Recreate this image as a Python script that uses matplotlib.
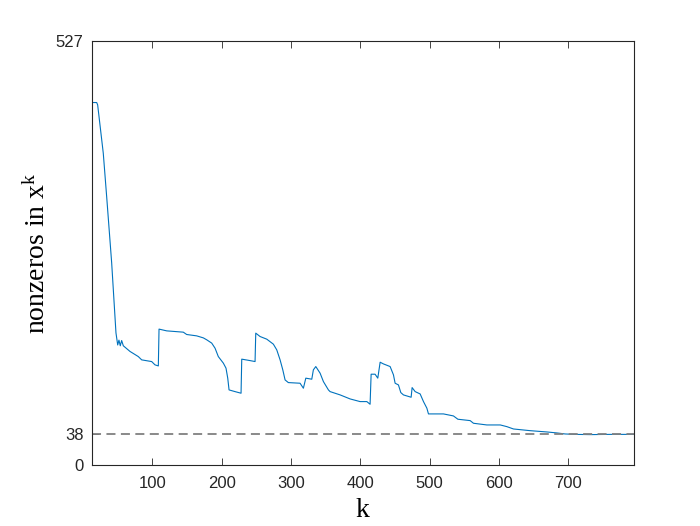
import numpy as np
import matplotlib
matplotlib.use('Agg')
import matplotlib.pyplot as plt

plt.rcParams['font.family'] = ['Liberation Sans', 'DejaVu Sans']
plt.rcParams['mathtext.fontset'] = 'custom'
plt.rcParams['mathtext.rm'] = 'Liberation Serif'
plt.rcParams['mathtext.it'] = 'Liberation Serif'

# iteration k and number of nonzeros in x^k
k = [12.6, 12.6, 19.8, 21.2, 29.3, 34.2, 41.4, 47.6, 50.1, 51.9, 53.8, 55.8, 58.2,
     67.8, 79.8, 84.7, 99.1, 103.9, 108.7, 109.7, 120.8, 144.7, 149.6, 164, 173.6,
     178.5, 185.7, 190.5, 195.2, 202.5, 206.3, 208.8, 210.7, 219.3, 228, 229, 241,
     248.2, 249.2, 255.4, 265.1, 274.6, 279.5, 284.3, 288.2, 291.5, 296.2, 313.1,
     317.9, 321.4, 330, 332.3, 335.8, 342, 346.8, 354, 356.4, 370.9, 385.3, 399.7,
     409.4, 414.1, 415.6, 421.3, 425.2, 428.6, 433.3, 443, 447.8, 450.2, 455, 458.4,
     462.2, 473.3, 474.7, 479.1, 486.3, 491.1, 496, 498.3, 519.9, 534.3, 540.7,
     558.4, 563.2, 582.5, 601.9, 611.4, 620.9, 645, 669.1, 683.5, 695.5, 710, 731.5,
     760, 794]
nnz = [0, 450, 450, 447, 387, 333, 251, 164, 149, 155, 148, 154.5, 148,
       141, 134.6, 130.5, 128.4, 124.3, 123, 168.7, 166.5, 164.9, 162, 160.3, 157.8,
       155.4, 151.3, 145, 134.6, 126.4, 120.2, 107.8, 93.2, 91.1, 89.1, 131.4, 129.6,
       128.4, 163.7, 159.5, 156.2, 150, 142.9, 130.5, 118.1, 105.6, 102.3, 101.5,
       95.3, 107.8, 106.5, 118.1, 122.2, 114, 103.5, 93.2, 91.1, 87, 82, 78.7,
       78.7, 75.4, 112.7, 112.7, 107.8, 127.6, 125.5, 122.2, 111.9, 101.5, 99.4, 89.9,
       87, 84.1, 96.1, 91.1, 88.2, 78.7, 70.5, 63.4, 63.4, 60.9, 56.8,
       55.1, 51.8, 49.7, 49.7, 47.6, 44.7, 42.6, 41, 39.8, 38.5, 38, 37.7,
       38, 38]
nnz_true = 38
n_total = 527
xticks = [100, 200, 300, 400, 500, 600, 700]
yticks = [0, 38, 527]

fig = plt.figure(figsize=(7, 5.26), dpi=100)
ax = fig.add_axes([0.131, 0.116, 0.774, 0.807])

ax.plot(k, nnz, color='#0072BD', lw=0.8)
ax.axhline(nnz_true, color='#808080', ls=(0, (5, 3)), lw=1.3)

ax.set_xlim(12.6, 794)
ax.set_ylim(0, n_total)
ax.set_xticks(xticks)
ax.set_yticks(yticks)
ax.tick_params(direction='in', length=5, width=0.6, labelsize=12,
               top=True, right=True, colors='#262626')
ax.tick_params(axis='x', pad=8)
ax.tick_params(axis='y', pad=6)
for s in ax.spines.values():
    s.set_linewidth(0.8)
    s.set_color('#262626')

ax.set_xlabel('k', family='Liberation Serif', fontsize=20, labelpad=5)
ax.set_ylabel(r'nonzeros in x$^{\mathrm{k}}$', family='Liberation Serif',
              fontsize=20, labelpad=3)

fig.savefig('out.png', dpi=100)
